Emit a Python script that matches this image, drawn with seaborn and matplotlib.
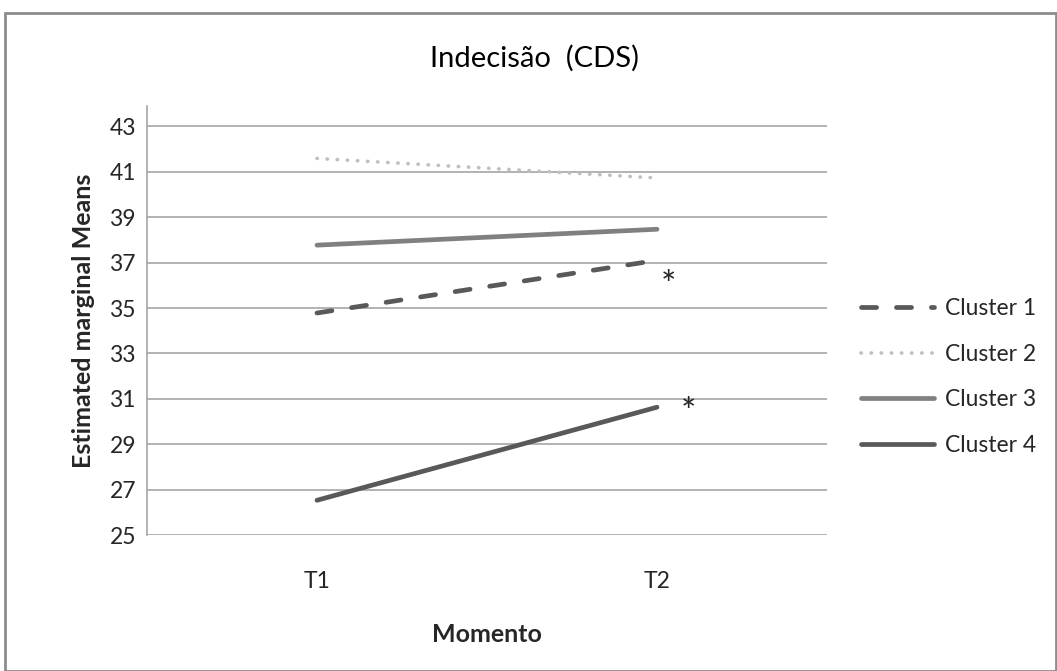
import pandas as pd
import numpy as np
import matplotlib.pyplot as plt
import seaborn as sns
from matplotlib.patches import Rectangle

# values
momentos = ["T1", "T2"]
cluster_1 = [34.78, 37.10]
cluster_2 = [41.59, 40.73]
cluster_3 = [37.77, 38.47]
cluster_4 = [26.53, 30.63]
cluster_names = ["Cluster 1", "Cluster 2", "Cluster 3", "Cluster 4"]
y_ticks = [25, 27, 29, 31, 33, 35, 37, 39, 41, 43]

df = pd.DataFrame({
    "Momento": momentos * 4,
    "Mean": cluster_1 + cluster_2 + cluster_3 + cluster_4,
    "Cluster": np.repeat(cluster_names, 2),
})

sns.set_theme(style="white")
plt.rcParams["font.family"] = ["Lato", "DejaVu Sans"]

fig = plt.figure(figsize=(10.57, 6.71), dpi=100)
ax = fig.add_axes([147 / 1057, 1 - 535 / 671, (827 - 147) / 1057, (535 - 106) / 671])

palette = {"Cluster 1": "#595959", "Cluster 2": "#bfbfbf",
           "Cluster 3": "#808080", "Cluster 4": "#595959"}
dashes = {"Cluster 1": (3.2, 4.2), "Cluster 2": (0.1, 2.7),
          "Cluster 3": "", "Cluster 4": ""}

sns.lineplot(data=df, x="Momento", y="Mean", hue="Cluster", style="Cluster",
             palette=palette, dashes=dashes, linewidth=3.4, ax=ax,
             sort=False, legend="full")

ax.set_xlim(-0.5, 1.5)
ax.set_ylim(25, 43.9)
ax.set_yticks(y_ticks)
ax.yaxis.grid(True, color="#a6a6a6", linewidth=1.2)
ax.xaxis.grid(False)
for s in ["top", "right", "bottom"]:
    ax.spines[s].set_visible(False)
ax.spines["left"].set_color("#a6a6a6")
ax.spines["left"].set_linewidth(1.2)
ax.tick_params(axis="both", length=0, labelsize=16.5, colors="#262626")
ax.tick_params(axis="y", pad=8)
ax.tick_params(axis="x", pad=26)

ax.set_xlabel("Momento", fontsize=18, fontweight="bold", labelpad=22)
ax.set_ylabel("Estimated marginal Means", fontsize=18, fontweight="bold", labelpad=10)
fig.text(535 / 1057, 1 - 58 / 671, "Indecisão  (CDS)", fontsize=21,
         ha="center", va="center", color="#000000")

# significance marks
ax.text(1.035, 35.95, "*", fontsize=26, ha="center", va="center")
ax.text(1.094, 30.35, "*", fontsize=26, ha="center", va="center")

handles, labels = ax.get_legend_handles_labels()
ax.legend(handles, labels, loc="center left", bbox_to_anchor=(1.05, 0.368),
          frameon=False, fontsize=16.5, handlelength=3.2, labelspacing=1.07,
          handletextpad=0.45, borderpad=0, borderaxespad=0)

# thinner round dots for Cluster 2, round caps everywhere
for ln in list(ax.get_lines()) + list(ax.get_legend().get_lines()):
    ln.set_solid_capstyle("round")
    ln.set_dash_capstyle("round")
    if ln.get_color() == "#bfbfbf":
        ln.set_linewidth(2.6)
        ln.set_dashes((0.1, 2.7))

fig.patches.append(Rectangle((5 / 1057, 0), 1 - 6 / 1057, 1 - 13 / 671,
                             transform=fig.transFigure, fill=False,
                             edgecolor="#8c8c8c", linewidth=2))

fig.savefig("out.png", dpi=100)
